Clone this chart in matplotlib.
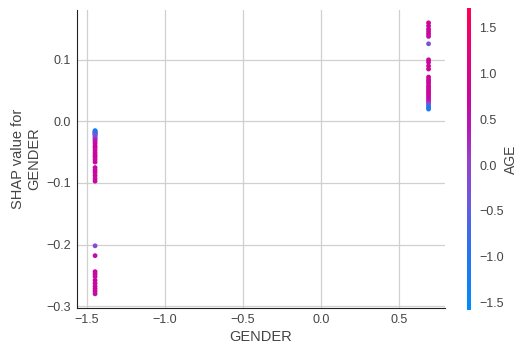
import numpy as np
import matplotlib.pyplot as plt
from matplotlib.colors import LinearSegmentedColormap

# standardized GENDER values (two groups)
gender_low = -1.447
gender_high = 0.691

# SHAP values and AGE (standardized) for each group
shap_low = [-0.015, -0.016, -0.017, -0.018, -0.019, -0.020, -0.021, -0.022, -0.024,
            -0.026, -0.028, -0.030, -0.033, -0.036, -0.040, -0.043, -0.047, -0.051,
            -0.055, -0.058, -0.062, -0.066, -0.075, -0.079, -0.083, -0.088, -0.093,
            -0.097, -0.202, -0.218, -0.244, -0.248, -0.252, -0.258, -0.263, -0.268,
            -0.272, -0.276, -0.280]
age_low = [-1.2, -1.1, -1.0, -0.95, -0.9, -0.8, -0.6, -0.5, -0.3,
           -0.1, 0.1, 0.3, 0.5, 0.6, 0.7, 0.8, 0.6, 0.9,
           0.7, 0.8, 0.6, 0.7, 0.8, 0.6, 0.7, 0.8, 0.6,
           0.7, -0.2, 0.6, 0.7, 0.8, 0.6, 0.7, 0.8, 0.6,
           0.7, 0.8, 0.6]

shap_high = [0.160, 0.155, 0.150, 0.146, 0.142, 0.138, 0.126, 0.100, 0.096, 0.090,
             0.085, 0.072, 0.068, 0.065, 0.062, 0.058, 0.055, 0.052, 0.049, 0.046,
             0.043, 0.040, 0.037, 0.034, 0.031, 0.028, 0.025, 0.022, 0.020]
age_high = [0.8, 0.7, 0.9, 0.7, 0.8, 0.6, -0.3, 0.8, 0.7, 0.9,
            0.8, 0.7, 0.8, 0.6, 0.9, 0.7, 0.8, 0.6, 0.7, 0.9,
            0.8, 0.6, 0.7, 0.5, 0.3, 0.0, -0.8, -1.0, -1.1]

xticks = [-1.5, -1.0, -0.5, 0.0, 0.5]
yticks = [-0.3, -0.2, -0.1, 0.0, 0.1]
cticks = [-1.5, -1.0, -0.5, 0.0, 0.5, 1.0, 1.5]

red_blue = LinearSegmentedColormap.from_list(
    "red_blue", [(0.0, "#008bfb"), (0.2, "#2a72f0"), (0.35, "#6a5adf"),
                 (0.5, "#9b3fc8"), (0.6, "#b51ab4"), (0.7, "#c9069f"),
                 (0.85, "#e6037a"), (1.0, "#ff0052")])


def fmt(v):
    return "\u2212" + f"{abs(v):.1f}" if v < 0 else f"{v:.1f}"


plt.rcParams["font.family"] = ["Liberation Sans", "DejaVu Sans"]
fig = plt.figure(figsize=(5.19, 3.47), dpi=100)
ax = fig.add_axes([0.148, 0.1124, 0.709, 0.859])

x = [gender_low] * len(shap_low) + [gender_high] * len(shap_high)
y = shap_low + shap_high
c = age_low + age_high
sc = ax.scatter(x, y, c=c, cmap=red_blue, vmin=-1.58, vmax=1.71, s=12,
                linewidths=0, zorder=3)

ax.set_xlim(-1.564, 0.795)
ax.set_ylim(-0.303, 0.181)
ax.set_xticks(xticks)
ax.set_yticks(yticks)
ax.set_xticklabels([fmt(v) for v in xticks])
ax.set_yticklabels([fmt(v) for v in yticks])
ax.grid(True, color="#d0d0d0", linewidth=0.9, zorder=0)
ax.tick_params(length=0, labelsize=9, colors="#444444", pad=4)
ax.spines["top"].set_visible(False)
ax.spines["right"].set_visible(False)
ax.spines["left"].set_color("#222222")
ax.spines["bottom"].set_color("#222222")
ax.set_xlabel("GENDER", fontsize=10.5, color="#444444", labelpad=3)
ax.set_ylabel("SHAP value for\nGENDER", fontsize=10.5, color="#444444")

cax = fig.add_axes([0.900, 0.1066, 0.0077, 0.870])
cb = fig.colorbar(sc, cax=cax, ticks=cticks)
cb.outline.set_visible(False)
cb.ax.set_yticklabels([fmt(v) for v in cticks])
cb.ax.tick_params(length=0, labelsize=9, colors="#444444", pad=6)
cb.set_label("AGE", fontsize=10, color="#444444", labelpad=0)

fig.savefig("out.png", dpi=100)
